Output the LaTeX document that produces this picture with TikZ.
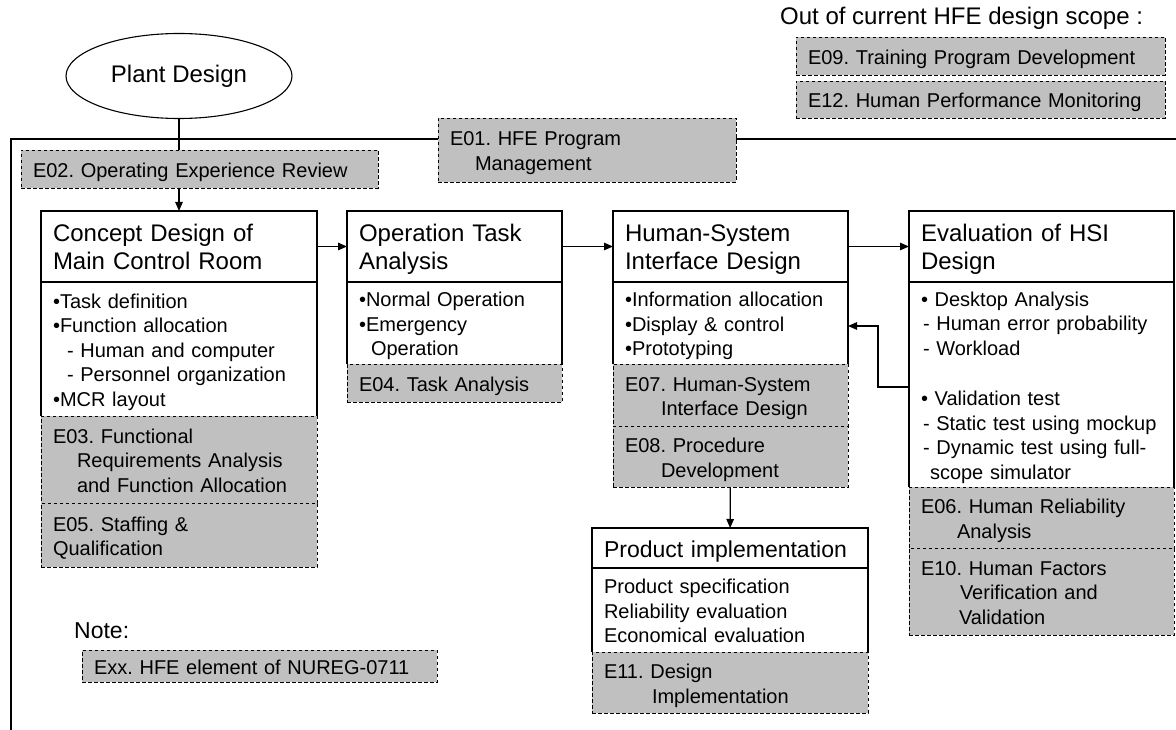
\documentclass[tikz,border=0pt]{standalone}
\usepackage{fontspec}
\setmainfont{Liberation Sans}
\usetikzlibrary{shapes.geometric,arrows.meta}
\frenchspacing

\definecolor{elemgray}{RGB}{192,192,192}
\newcommand{\hdfont}{\fontsize{24}{28}\selectfont}
\newcommand{\txfont}{\fontsize{20}{24.5}\selectfont}

\tikzset{
  box/.style={anchor=north west, inner xsep=12pt, inner ysep=0pt, outer sep=0pt, align=left},
  head/.style={box, draw, line width=1.2pt, fill=white, font=\hdfont,
    execute at begin node={\rule{0pt}{24pt}}, execute at end node={\rule[-5pt]{0pt}{5pt}}},
  body/.style={box, fill=white, font=\txfont,
    execute at begin node={\rule{0pt}{21pt}}, execute at end node={\rule[-4.5pt]{0pt}{4.5pt}}},
  elem/.style={box, draw, line width=0.9pt, dash pattern=on 3.5pt off 2.5pt, fill=elemgray, font=\txfont,
    execute at begin node={\rule{0pt}{21pt}}, execute at end node={\rule[-4.5pt]{0pt}{4.5pt}}},
  arr/.style={-{Triangle[length=9pt,width=7.5pt]}, line width=1.2pt},
  link/.style={line width=1.2pt}
}

\begin{document}
\begin{tikzpicture}[x=1pt, y=-1pt]
\useasboundingbox (0,0) rectangle (1176,730);

\draw[link] (1176,139) -- (11,139) -- (11,730);

\node[ellipse, draw, line width=1.1pt, minimum width=226pt, minimum height=85pt, inner sep=0pt, font=\hdfont] (plant) at (179,76) {Plant Design};

\node[anchor=base west, inner sep=0pt, font=\hdfont] (scope) at (780,25) {Out of current HFE design scope :};
\node[elem, text width=345pt, minimum height=38pt] (e09) at (796,37) {E09. Training Program Development};
\node[elem, text width=345pt, minimum height=37pt] (e12) at (796,81) {E12. Human Performance Monitoring};

\node[elem, text width=274pt, minimum height=64pt] (e01) at (438,118) {E01. HFE Program\\\hspace*{25pt}Management};
\node[elem, text width=333pt, minimum height=38pt] (e02) at (21,150) {E02. Operating Experience Review};

% concept design
\node[head, text width=252pt, minimum height=71pt] (cdHead) at (41,211) {Concept Design of\\Main Control Room};
\node[body, text width=252pt, minimum height=134pt] (cdBody) at (41,282) {\textbullet Task definition\\\textbullet Function allocation\\\hspace*{14pt}- Human and computer\\\hspace*{14pt}- Personnel organization\\\textbullet MCR layout};
\node[elem, text width=252pt, minimum height=87pt] (cdE03) at (41,416) {E03. Functional\\\hspace*{24pt}Requirements Analysis\\\hspace*{24pt}and Function Allocation};
\node[elem, text width=252pt, minimum height=64pt] (cdE05) at (41,503) {E05. Staffing \&\\Qualification};

% operation task analysis
\node[head, text width=191pt, minimum height=71pt] (otHead) at (347,211) {Operation Task\\Analysis};
\node[body, text width=191pt, minimum height=82pt] (otBody) at (347,282) {\textbullet Normal Operation\\\textbullet Emergency\\\hspace*{12pt}Operation};
\node[elem, text width=191pt, minimum height=38pt] (otE04) at (347,364) {E04. Task Analysis};

% human-system interface design
\node[head, text width=211pt, minimum height=71pt] (hsHead) at (613,211) {Human-System\\Interface Design};
\node[body, text width=211pt, minimum height=82pt] (hsBody) at (613,282) {\textbullet Information allocation\\\textbullet Display \& control\\\textbullet Prototyping};
\node[elem, text width=211pt, minimum height=62pt] (hsE07) at (613,364) {E07. Human-System\\\hspace*{36pt}Interface Design};
\node[elem, text width=211pt, minimum height=61pt] (hsE08) at (613,426) {E08. Procedure\\\hspace*{36pt}Development};

% evaluation of hsi design
\node[head, text width=241pt, minimum height=71pt] (evHead) at (909,211) {Evaluation of HSI\\Design};
\node[body, text width=241pt, minimum height=205pt] (evBody) at (909,282) {\textbullet{} Desktop Analysis\\\hspace*{2pt}- Human error probability\\\hspace*{2pt}- Workload\\[26.5pt]\textbullet{} Validation test\\\hspace*{2pt}- Static test using mockup\\\hspace*{2pt}- Dynamic test using full-\\\hspace*{9pt}scope simulator};
\node[elem, text width=241pt, minimum height=61pt] (evE06) at (909,487) {E06. Human Reliability\\\hspace*{36pt}Analysis};
\node[elem, text width=241pt, minimum height=87pt] (evE10) at (909,548) {E10. Human Factors\\\hspace*{39pt}Verification and\\\hspace*{38pt}Validation};

% product implementation
\node[head, text width=252pt, minimum height=40pt, font=\fontsize{23}{27}\selectfont] (piHead) at (592,528) {Product implementation};
\node[body, text width=252pt, minimum height=84pt] (piBody) at (592,568) {Product specification\\Reliability evaluation\\Economical evaluation};
\node[elem, text width=252pt, minimum height=61pt] (piE11) at (592,652) {E11. Design\\\hspace*{48pt}Implementation};

% note
\node[anchor=base west, inner sep=0pt, font=\fontsize{23}{27}\selectfont] (note) at (74,638) {Note:};
\node[elem, text width=331pt, minimum height=32pt] (legend) at (82,650) {Exx. HFE element of NUREG-0711};

\foreach \b in {cdBody,otBody,hsBody,evBody,piBody}
  \draw[line width=1.2pt] (\b.south west) -- (\b.north west) -- (\b.north east) -- (\b.south east);

\draw[link] (plant.south) -- (plant.south |- e02.north);
\draw[arr] (plant.south |- e02.south) -- (cdHead.north);
\draw[arr] (cdHead) -- (otHead);
\draw[arr] (otHead) -- (hsHead);
\draw[arr] (hsHead) -- (evHead);
\draw[arr] (hsE08) -- (piHead);
\draw[arr] ([yshift=-2.5pt]evBody.west) -- ++(-31,0) |- ([yshift=-3pt]hsBody.east);
\end{tikzpicture}
\end{document}
